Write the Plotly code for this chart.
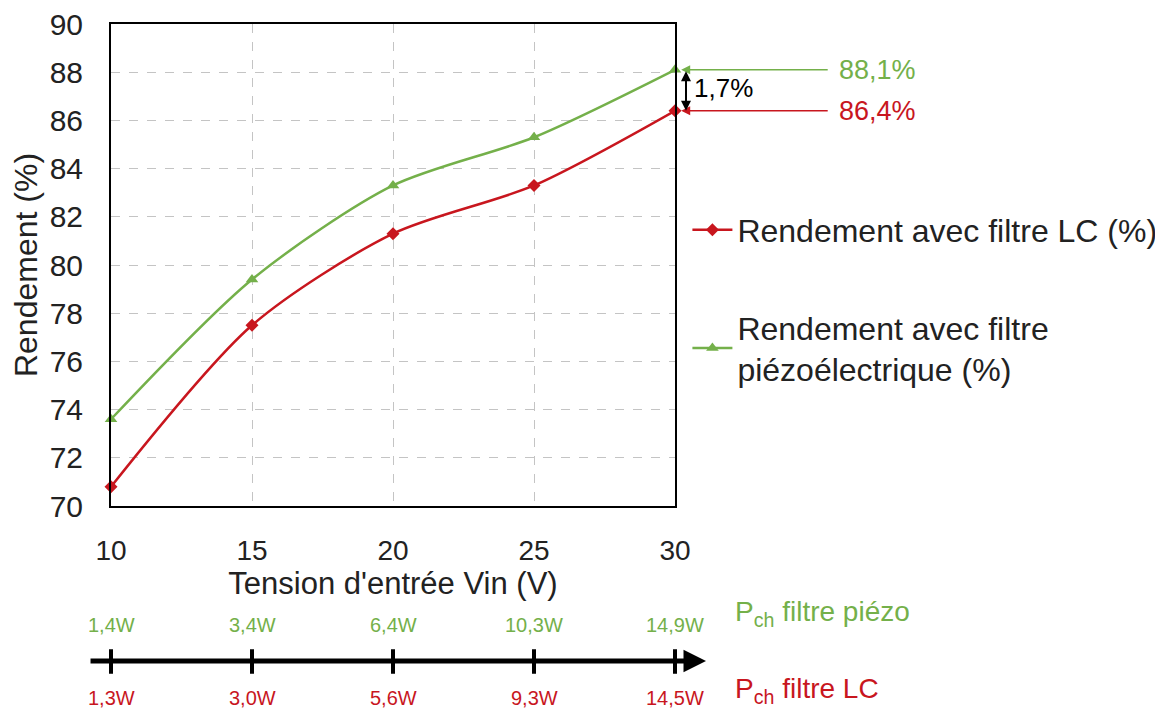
import plotly.graph_objects as go

# data
vin = [10, 15, 20, 25, 30]
rend_lc = [70.8, 77.5, 81.3, 83.3, 86.4]
rend_piezo = [73.6, 79.4, 83.3, 85.3, 88.1]
pch_piezo = ["1,4W", "3,4W", "6,4W", "10,3W", "14,9W"]
pch_lc = ["1,3W", "3,0W", "5,6W", "9,3W", "14,5W"]

RED = "#C8161E"
GREEN = "#74B04A"
FONT = "Liberation Sans, Arial, sans-serif"

fig = go.Figure()

fig.add_trace(go.Scatter(
    x=vin, y=rend_lc, name="Rendement avec filtre LC (%)",
    mode="lines+markers", line=dict(color=RED, width=2.5, shape="spline", smoothing=0.8),
    marker=dict(symbol="diamond", size=10, color=RED),
    legendgroup="lc", cliponaxis=False,
))
fig.add_trace(go.Scatter(
    x=vin, y=rend_piezo, name="Rendement avec filtre<br>piézoélectrique (%)",
    mode="lines+markers", line=dict(color=GREEN, width=2.5, shape="spline", smoothing=0.8),
    marker=dict(symbol="triangle-up", size=11, color=GREEN),
    legendgroup="piezo", cliponaxis=False,
))

annotations = []

# callouts for the end values
last_piezo = rend_piezo[-1]
last_lc = rend_lc[-1]
for val, col in [(last_piezo, GREEN), (last_lc, RED)]:
    annotations.append(dict(
        x=1.011, xref="paper", y=val, yref="y", text="", showarrow=True,
        ax=148, ay=0, arrowcolor=col, arrowwidth=1.5, arrowhead=2, arrowsize=1.2,
    ))
    annotations.append(dict(
        x=1.287, xref="paper", y=val, yref="y", text=f"{val:.1f}%".replace(".", ","),
        showarrow=False, xanchor="left", yanchor="middle",
        font=dict(size=27, color=col, family=FONT),
    ))

# difference marker
diff = last_piezo - last_lc
annotations.append(dict(
    x=1.0195, xref="paper", y=last_lc, yref="y", text="", showarrow=True,
    ax=0, ay=-diff * 24.1, arrowside="end+start", arrowcolor="black",
    arrowwidth=2, arrowhead=2, startarrowhead=2, arrowsize=1, startarrowsize=1,
))
annotations.append(dict(
    x=1.03, xref="paper", y=(last_piezo + last_lc) / 2 + 0.1, yref="y",
    text=f"{diff:.1f}%".replace(".", ","), showarrow=False, xanchor="left", yanchor="middle",
    font=dict(size=26, color="black", family=FONT),
))

# secondary "power" axis under the chart
axis_y = -0.3216
annotations.append(dict(
    x=1.055, xref="paper", y=axis_y, yref="paper", text="", showarrow=True,
    ax=-617, ay=0, arrowcolor="black", arrowwidth=5, arrowhead=2, arrowsize=0.9,
))
for v, gp, rp in zip(vin, pch_piezo, pch_lc):
    annotations.append(dict(x=v, xref="x", y=-0.297, yref="paper", text="", showarrow=True,
                            ax=0, ay=26, arrowhead=0, arrowwidth=4, arrowcolor="black"))
    annotations.append(dict(x=v, xref="x", y=-0.247, yref="paper", text=gp,
                            showarrow=False, yanchor="middle",
                            font=dict(size=20, color=GREEN, family=FONT)))
    annotations.append(dict(x=v, xref="x", y=-0.398, yref="paper", text=rp,
                            showarrow=False, yanchor="middle",
                            font=dict(size=20, color=RED, family=FONT)))

annotations.append(dict(x=1.103, xref="paper", y=-0.224, yref="paper", xanchor="left",
                        yanchor="middle", text="P<sub>ch</sub> filtre piézo", showarrow=False,
                        font=dict(size=28, color=GREEN, family=FONT)))
annotations.append(dict(x=1.103, xref="paper", y=-0.382, yref="paper", xanchor="left",
                        yanchor="middle", text="P<sub>ch</sub> filtre LC", showarrow=False,
                        font=dict(size=28, color=RED, family=FONT)))

fig.update_layout(
    width=1155, height=705,
    margin=dict(l=103, r=488, t=16, b=207, autoexpand=False),
    paper_bgcolor="white", plot_bgcolor="white",
    font=dict(family=FONT, size=28, color="#222222"),
    xaxis=dict(
        range=[10, 30], tickvals=vin, showgrid=True, gridcolor="#c4c4c4", griddash="dash",
        showline=True, mirror=True, linecolor="black", linewidth=2,
        ticks="", ticklabelstandoff=18, tickfont=dict(size=28), ticklabeloverflow="allow",
        title=dict(text="Tension d'entrée Vin (V)", font=dict(size=31), standoff=4),
        zeroline=False, automargin=False,
    ),
    yaxis=dict(
        range=[70, 90], dtick=2, showgrid=True, gridcolor="#c4c4c4", griddash="dash",
        showline=True, mirror=True, linecolor="black", linewidth=2,
        ticks="", ticklabelstandoff=20, tickfont=dict(size=30), ticklabeloverflow="allow",
        title=dict(text="Rendement (%)", font=dict(size=32), standoff=6),
        zeroline=False, automargin=False,
    ),
    legend=dict(x=1.022, y=0.63, xanchor="left", yanchor="top",
                font=dict(size=32, color="#222222"), tracegroupgap=53,
                itemwidth=40, bgcolor="rgba(0,0,0,0)"),
    annotations=annotations,
)

fig.write_html("out.html")
